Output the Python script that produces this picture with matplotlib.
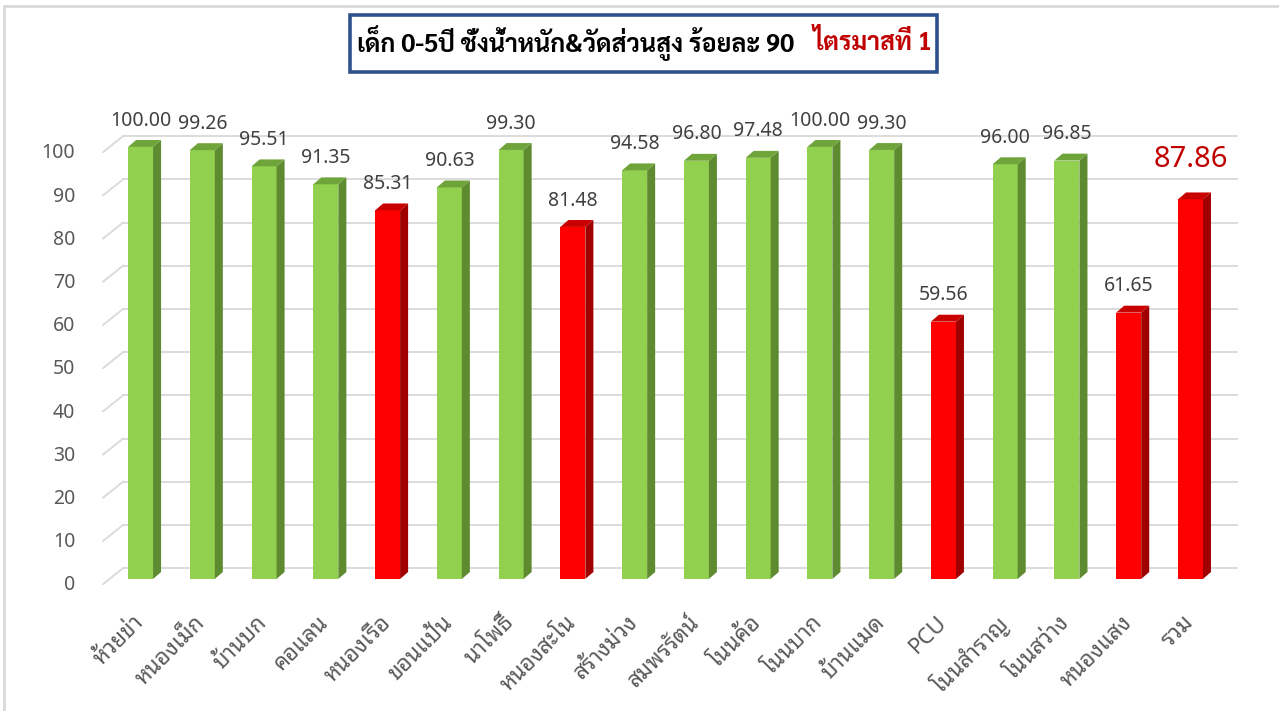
#!/usr/bin/env python3
"""เด็ก 0-5ปี ชั่งน้ำหนัก&วัดส่วนสูง — 3D-style column chart (matplotlib PNG)."""
import matplotlib
matplotlib.use("Agg")
import matplotlib.pyplot as plt
import matplotlib.transforms as mtrans
from matplotlib.patches import Polygon, Rectangle
from matplotlib.text import Annotation
import numpy as np

units = ["ห้วยข่า", "หนองเม็ก", "บ้านบก", "คอแลน", "หนองเรือ", "ขอนแป้น", "นาโพธิ์",
         "หนองสะโน", "สร้างม่วง", "สมพรรัตน์", "โนนค้อ", "โนนบาก", "บ้านแมด", "PCU",
         "โนนสำราญ", "โนนสว่าง", "หนองแสง", "รวม"]
pct = [100.00, 99.26, 95.51, 91.35, 85.31, 90.63, 99.30, 81.48, 94.58, 96.80,
       97.48, 100.00, 99.30, 59.56, 96.00, 96.85, 61.65, 87.86]
target = 90
yticks = list(range(0, 101, 10))

THAI = ["Noto Sans Thai Looped", "Noto Sans Thai", "DejaVu Sans"]
THAI_B = ["Sarabun", "Noto Sans Thai", "DejaVu Sans"]
NUM = ["Noto Sans", "DejaVu Sans"]

# face colours: front, side, top
GREEN = ("#92D050", "#5E8A30", "#6FA43A")
RED = ("#FF0000", "#A00000", "#C80000")

W, H = 1279, 711
fig = plt.figure(figsize=(W / 100, H / 100), dpi=100)

# chart border (light grey, only top/left visible in the reference)
fig.add_artist(Rectangle((4 / W, -0.05), 1.2, (H - 6) / H + 0.05, transform=fig.transFigure,
                         fill=False, edgecolor="#D9D9D9", linewidth=2))

ax = fig.add_axes([100.4 / W, 0.1736, 0.8909, 0.6562])
ax.set_xlim(-0.65, 17.8)
ax.set_ylim(-2, 106)
for s in ax.spines.values():
    s.set_visible(False)

x = np.arange(len(units))
bw, dx, dy = 0.405, 0.13, 1.6      # bar width, 3D depth of a column
gdx, gdy = 0.324, 3.7              # depth of the back wall

# back-wall gridlines + left-wall diagonals
for v in yticks:
    ax.plot([-0.283, 17.75], [v + gdy - 1.2, v + gdy - 1.2], color="#D9D9D9", lw=1.3, zorder=1)
    ax.plot([-0.607, -0.607 + gdx], [v - 1.2, v - 1.2 + gdy], color="#D9D9D9", lw=1.3, zorder=1)

cols = [RED if p < target else GREEN for p in pct]
ax.bar(x, pct, width=bw, color=[c[0] for c in cols], zorder=3, linewidth=0)
for xi, p, c in zip(x, pct, cols):
    l, r = xi - bw / 2, xi + bw / 2
    ax.add_patch(Polygon([(r, 0), (r + dx, dy), (r + dx, p + dy), (r, p)],
                         closed=True, facecolor=c[1], lw=0, zorder=3))
    ax.add_patch(Polygon([(l, p), (r, p), (r + dx, p + dy), (l + dx, p + dy)],
                         closed=True, facecolor=c[2], lw=0, zorder=3))

# value labels
for xi, p in zip(x[:-1], pct[:-1]):
    ax.annotate(f"{p:.2f}", (xi, p), xytext=(0, 19), textcoords="offset points",
                ha="center", va="center", fontsize=14, color="#404040", family=NUM)
ax.annotate(f"{pct[-1]:.2f}", (x[-1], pct[-1]), xytext=(0, 29), textcoords="offset points",
            ha="center", va="center", fontsize=21, color="#C00000", family=NUM)

ax.set_yticks(yticks)
ax.set_yticklabels([str(v) for v in yticks], fontsize=14, color="#595959", family=NUM)
ax.tick_params(axis="y", length=0, pad=18)
off = mtrans.ScaledTranslation(0, -4 / 100, fig.dpi_scale_trans)
for lab in ax.get_yticklabels():
    lab.set_transform(lab.get_transform() + off)

ax.set_xticks(x)
ax.set_xticklabels(units, rotation=45, ha="right", va="center", rotation_mode="anchor",
                   fontsize=16, color="#595959", family=THAI)
ax.tick_params(axis="x", length=0, pad=23)

# title box
fig.add_artist(Rectangle((350 / W, (H - 72) / H), 587 / W, 57 / H, transform=fig.transFigure,
                         facecolor="white", edgecolor="#2F528F", linewidth=2.6, zorder=5))
t1 = fig.text(357 / W, (H - 43) / H, "เด็ก 0-5ปี ชั่งน้ำหนัก&วัดส่วนสูง ร้อยละ 90",
              ha="left", va="center", fontsize=18, fontweight="bold", family=THAI_B, zorder=6)
t2 = Annotation("ไตรมาสที่ 1", xy=(1, 0.5), xycoords=t1, xytext=(13, 0),
                textcoords="offset points", ha="left", va="center", fontsize=18,
                fontweight="bold", color="#C00000", family=THAI_B, annotation_clip=False)
t2.set_zorder(6)
fig.add_artist(t2)

fig.savefig("out.png", dpi=100)
plt.close(fig)
